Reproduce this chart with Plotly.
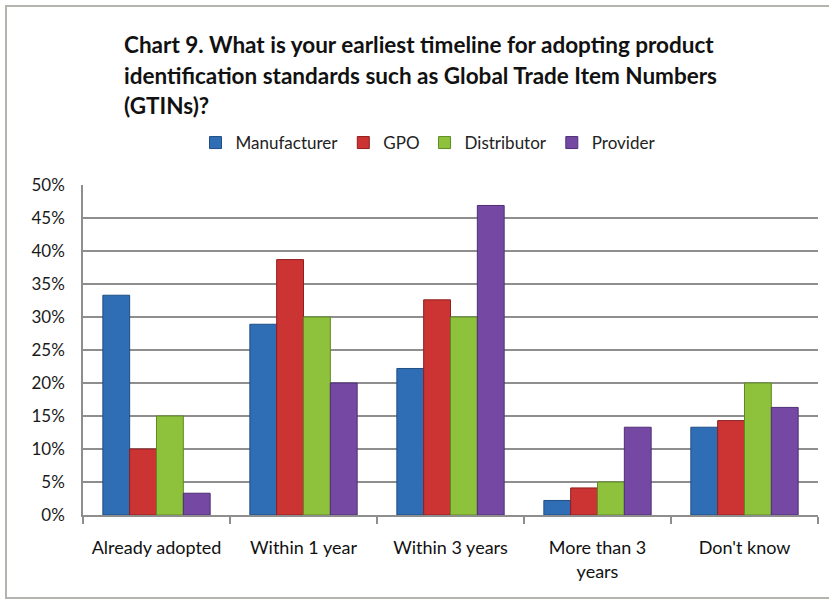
import plotly.graph_objects as go

categories = ["Already adopted", "Within 1 year", "Within 3 years", "More than 3<br>years", "Don't know"]
series_names = ["Manufacturer", "GPO", "Distributor", "Provider"]
manufacturer = [33.3, 28.9, 22.2, 2.2, 13.3]
gpo = [10.0, 38.7, 32.6, 4.1, 14.3]
distributor = [15.0, 30.0, 30.0, 5.0, 20.0]
provider = [3.3, 20.0, 46.9, 13.3, 16.3]
y_ticks = [0, 5, 10, 15, 20, 25, 30, 35, 40, 45, 50]
y_tick_labels = [f"{v}%" for v in y_ticks]
title_lines = [
    "Chart 9. What is your earliest timeline for adopting product",
    "identification standards such as Global Trade Item Numbers",
    "(GTINs)?",
]

colors = ["#2F6DB5", "#CC3333", "#8FC23C", "#7448A3"]
edges = ["#1F4E85", "#8E1F1F", "#5F8A22", "#4E2F75"]

W, H = 829, 602
L, R, T, B = 83, 818, 185, 515

fig = go.Figure()
for name, vals, c, e in zip(series_names, [manufacturer, gpo, distributor, provider], colors, edges):
    fig.add_trace(go.Bar(
        name=name, x=categories, y=vals,
        marker=dict(color=c, line=dict(color=e, width=1)),
    ))

def px_x(p):
    return (p - L) / (R - L)

def px_y(p):
    return (B - p) / (B - T)

annotations = []
for i, (line, ypx) in enumerate(zip(title_lines, [44, 75, 106])):
    annotations.append(dict(
        text=line, xref="paper", yref="paper", x=px_x(122), y=px_y(ypx),
        xanchor="left", yanchor="middle", showarrow=False,
        font=dict(family="Lato", size=22.5, color="#111111", weight="bold"),
    ))

fig.update_layout(
    width=W, height=H,
    margin=dict(l=L, r=W - R, t=T, b=H - B, pad=0),
    paper_bgcolor="white", plot_bgcolor="white",
    barmode="group", bargap=0.27, bargroupgap=0,
    annotations=annotations,
    showlegend=True,
    legend=dict(
        orientation="h", x=px_x(428), y=px_y(143), xanchor="center", yanchor="middle",
        font=dict(family="Lato", size=17, color="#222222"),
        itemwidth=30, traceorder="normal",
    ),
    font=dict(family="Lato", color="#222222"),
    shapes=[dict(
        type="rect", xref="paper", yref="paper",
        x0=px_x(6), x1=px_x(840), y0=px_y(598), y1=px_y(6),
        line=dict(color="#B5B5B0", width=2),
    )],
)

fig.update_yaxes(
    range=[0, 50], tickvals=y_ticks, ticktext=y_tick_labels,
    showgrid=True, gridcolor="#8E8E8E", gridwidth=1.5,
    showline=True, linecolor="#8E8E8E", linewidth=1.5,
    ticks="", tickfont=dict(family="Lato", size=17, color="#1A1A1A"),
    ticklabelstandoff=13, zeroline=False, fixedrange=True,
)
fig.update_xaxes(
    showline=True, linecolor="#8E8E8E", linewidth=1.5,
    ticks="outside", tickson="boundaries", ticklen=7, tickcolor="#8E8E8E", tickwidth=1.5,
    tickfont=dict(family="Lato", size=18, color="#111111"),
    ticklabelstandoff=16, fixedrange=True,
)

fig.write_html("out.html")
